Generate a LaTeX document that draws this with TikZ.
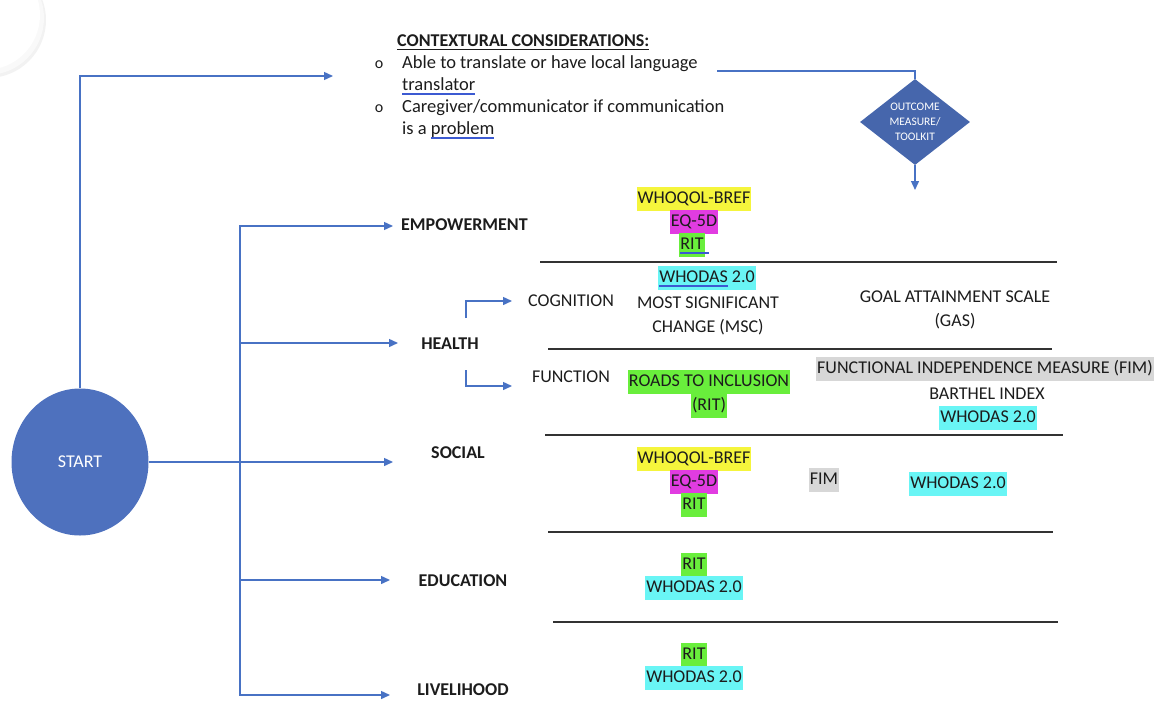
\documentclass[tikz,border=0pt]{standalone}
\usepackage{fontspec}
\setmainfont{Carlito}
\usetikzlibrary{shapes.geometric,arrows.meta}
\definecolor{lineblue}{RGB}{72,114,196}
\definecolor{startblue}{RGB}{78,113,190}
\definecolor{diablue}{RGB}{70,102,172}
\definecolor{ulblue}{RGB}{60,90,210}
\definecolor{textc}{RGB}{28,28,28}
\definecolor{rulegray}{RGB}{50,50,50}
\definecolor{hlyellow}{RGB}{245,245,60}
\definecolor{hlmag}{RGB}{225,60,225}
\definecolor{hlgreen}{RGB}{105,238,60}
\definecolor{hlcyan}{RGB}{105,245,245}
\definecolor{hlgray}{RGB}{215,215,215}
\newcommand\dbrules[1]{\rlap{\textcolor{ulblue}{\rule[-2.8pt]{#1}{0.7pt}}}\rlap{\textcolor{ulblue}{\rule[-4.6pt]{#1}{0.7pt}}}}
\newcommand\dblu[1]{\setbox0\hbox{#1}\dbrules{\wd0}\box0\relax}
\newcommand\sul[1]{\setbox0\hbox{#1}\rlap{\rule[-3.2pt]{\wd0}{1pt}}\box0\relax}
\tikzset{
  conn/.style={draw=lineblue, line width=1.4pt, -{Triangle[length=9pt,width=8pt]}},
  link/.style={draw=lineblue, line width=1.4pt},
  rulel/.style={draw=rulegray, line width=1.3pt},
  txt/.style={inner sep=0pt, text=textc, font=\fontsize{18}{22}\selectfont, text height=12.6pt, text depth=3.6pt},
  txtm/.style={inner sep=0pt, text=textc, font=\fontsize{18}{24}\selectfont, align=center},
  lbl/.style={txt, font=\fontsize{18}{22}\selectfont\bfseries},
  hl/.style={txt, inner xsep=1pt, inner ysep=3.5pt},
}
\begin{document}
\begin{tikzpicture}[x=1pt,y=-1pt]
\useasboundingbox (0,0) rectangle (1162,715);
% corner artifact
\fill[black!5] (-12,20) circle (58);
\fill[black!2.5] (-13,18) circle (57);
\fill[white] (-15,15) circle (55);

% start
\node[ellipse, fill=startblue, minimum width=137pt, minimum height=147pt, inner sep=0pt, text=white, font=\fontsize{18}{22}\selectfont] (start) at (80,462) {START};

% contextual considerations
\node[lbl, anchor=west] (ctxh) at (397,42) {\sul{CONTEXTURAL CONSIDERATIONS:}};
\node[txt, font=\fontsize{16}{16}\selectfont] (b1) at (379,64) {o};
\node[txt, font=\fontsize{16}{16}\selectfont] (b2) at (379,108) {o};
\node[txt, anchor=west, font=\fontsize{18.5}{22}\selectfont] (c1) at (402,64) {Able to translate or have local language};
\node[txt, anchor=west, font=\fontsize{18.5}{22}\selectfont] (c2) at (402,86) {\dblu{translator}};
\node[txt, anchor=west, font=\fontsize{18.5}{22}\selectfont] (c3) at (402,108) {Caregiver/communicator if communication};
\node[txt, anchor=west, font=\fontsize{18.5}{22}\selectfont] (c4) at (402,130) {is a \dblu{problem}};

% diamond
\node[diamond, fill=diablue, aspect=1.28, minimum width=110pt, minimum height=86pt, inner sep=0pt, text=white, align=center, font=\fontsize{11.5}{15}\selectfont] (dia) at (915,122) {OUTCOME\\MEASURE/\\TOOLKIT};

% domain labels
\node[lbl, anchor=west] (emp) at (401,226) {EMPOWERMENT};
\node[lbl] (health) at (450,345) {HEALTH};
\node[lbl] (social) at (458,454) {SOCIAL};
\node[lbl] (edu) at (463,582) {EDUCATION};
\node[lbl] (live) at (463,691) {LIVELIHOOD};
\node[txt] (cog) at (571,302) {COGNITION};
\node[txt] (fun) at (571,378) {FUNCTION};

% connectors
\coordinate (ctxArr) at (333,76);
\coordinate (socArr) at (393,462);
\coordinate (trTop) at (240,226);
\coordinate (trH) at (240,343);
\coordinate (trE) at (240,580);
\coordinate (trBot) at (240,695);
\coordinate (empArr) at (393,226);
\coordinate (healthArr) at (398,343);
\coordinate (eduArr) at (390,580);
\coordinate (liveArr) at (390,695);
\coordinate (hu) at (466,318);
\coordinate (cogArr) at (512,301);
\coordinate (hd) at (466,370);
\coordinate (funArr) at (512,386);
\coordinate (ctxEnd) at (717,71);
\coordinate (diaArr) at (915,190);

\draw[conn] (start.north) |- (ctxArr);
\draw[conn] (start.east) -- (socArr);
\draw[conn] (trBot) |- (empArr);
\draw[conn] (trTop) |- (liveArr);
\draw[conn] (trH) -- (healthArr);
\draw[conn] (trE) -- (eduArr);
\draw[conn] (hu) |- (cogArr);
\draw[conn] (hd) |- (funArr);
\draw[link] (ctxEnd) -| (dia.north);
\draw[conn] (dia.south) -- (diaArr);

% rules
\draw[rulel] (540,262) -- (1057,262);
\draw[rulel] (548,349) -- (1052,349);
\draw[rulel] (545,435) -- (1063,435);
\draw[rulel] (548,532) -- (1053,532);
\draw[rulel] (553,622) -- (1058,622);

% empowerment
\node[hl, fill=hlyellow] (e1) at (694,199) {WHOQOL-BREF};
\node[hl, fill=hlmag] (e2) at (694,222) {EQ-5D};
\node[hl, fill=hlgreen] (e3) at (692,245) {\dbrules{29pt}RIT};

% health
\node[hl, fill=hlcyan] (h1) at (707,278) {\dblu{WHODAS} 2.0};
\node[txtm] (msc) at (708,316) {MOST SIGNIFICANT\\CHANGE (MSC)};
\node[txtm] (gas) at (955,310) {GOAL ATTAINMENT SCALE\\(GAS)};
\node[hl, fill=hlgreen] (f1) at (709,382) {ROADS TO INCLUSION};
\node[hl, fill=hlgreen] (f2) at (709,406) {(RIT)};
\node[hl, fill=hlgray, anchor=west] (f3) at (816,369) {FUNCTIONAL INDEPENDENCE MEASURE (FIM)};
\node[txt] (f4) at (987,395) {BARTHEL INDEX};
\node[hl, fill=hlcyan] (f5) at (988,418) {WHODAS 2.0};

% social
\node[hl, fill=hlyellow] (s1) at (694,459) {WHOQOL-BREF};
\node[hl, fill=hlmag] (s2) at (694,482) {EQ-5D};
\node[hl, fill=hlgreen] (s3) at (694,505) {RIT};
\node[hl, fill=hlgray] (s4) at (824,480) {FIM};
\node[hl, fill=hlcyan] (s5) at (958,484) {WHODAS 2.0};

% education
\node[hl, fill=hlgreen] (d1) at (694,565) {RIT};
\node[hl, fill=hlcyan] (d2) at (694,588) {WHODAS 2.0};

% livelihood
\node[hl, fill=hlgreen] (l1) at (694,655) {RIT};
\node[hl, fill=hlcyan] (l2) at (694,678) {WHODAS 2.0};
\end{tikzpicture}
\end{document}
